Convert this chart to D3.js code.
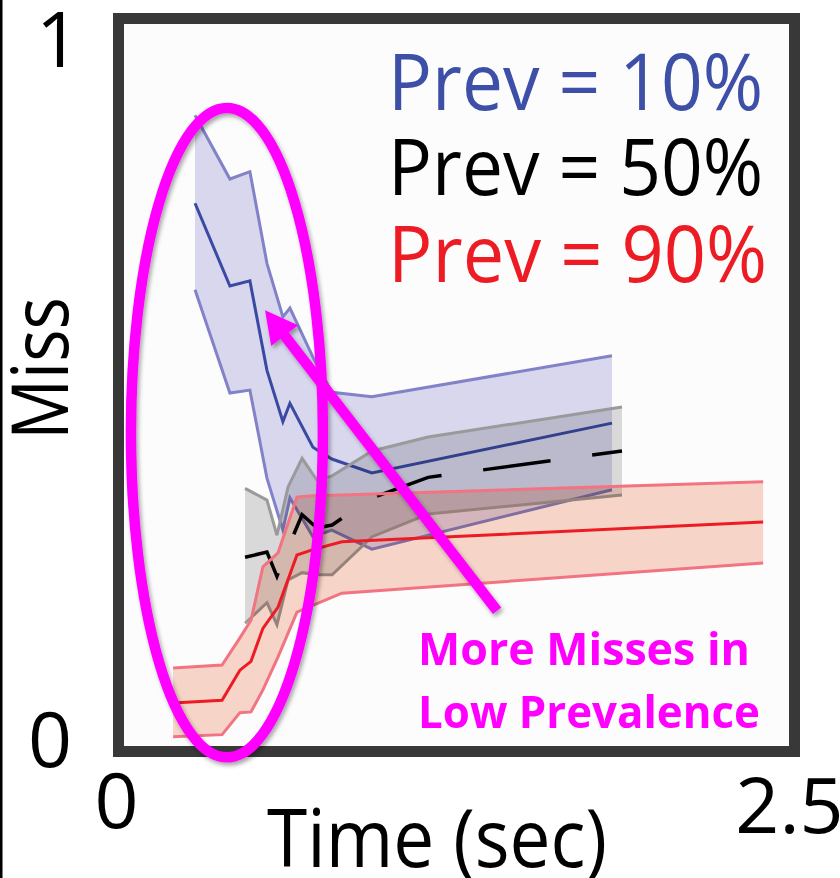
<!DOCTYPE html>
<html><head><meta charset="utf-8">
<script src="https://cdn.jsdelivr.net/npm/d3@7"></script>
<style>html,body{margin:0;padding:0;background:#fff;} svg{display:block;}</style>
</head><body>
<script>
// ---- data (time in sec, miss rate 0..1) ----
const blueTime = [0.283,0.412,0.486,0.549,0.608,0.634,0.719,0.789,0.937,1.825];
const blueMean = [0.748,0.635,0.642,0.520,0.450,0.475,0.415,0.399,0.380,0.448];
const blueHigh = [0.868,0.781,0.791,0.666,0.593,0.605,0.538,0.490,0.484,0.540];
const blueLow  = [0.630,0.489,0.493,0.373,0.302,0.346,0.293,0.302,0.276,0.357];

const grayTime = [0.468,0.549,0.586,0.627,0.679,0.734,0.790,0.938,1.145,1.862];
const grayMean = [0.265,0.272,0.239,0.278,0.323,0.305,0.309,0.346,0.374,0.410];
const grayHigh = [0.359,0.343,0.295,0.361,0.400,0.370,0.376,0.410,0.429,0.470];
const grayLow  = [0.175,0.203,0.173,0.234,0.244,0.241,0.241,0.293,0.324,0.350];

const redTime = [0.202,0.383,0.449,0.490,0.534,0.590,0.660,0.716,0.826,2.384];
const redMean = [0.066,0.070,0.111,0.123,0.168,0.197,0.268,0.275,0.286,0.313];
const redHigh = [0.114,0.118,0.155,0.179,0.252,0.271,0.347,0.349,0.350,0.368];
const redLow  = [0.020,0.023,0.053,0.054,0.084,0.129,0.190,0.199,0.216,0.257];

const legendLabels = ["Prev = 10%", "Prev = 50%", "Prev = 90%"];
const xTickValues = [0, 2.5];
const xTickLabels = ["0", "2.5"];
const yTickValues = [0, 1];
const yTickLabels = ["0", "1"];
const xTitle = "Time (sec)";
const yTitle = "Miss";
const noteLines = ["More Misses in", "Low Prevalence"];

// ---- layout ----
const W = 840, H = 878;
const FONT = "'Open Sans', 'Noto Sans', sans-serif";
const x = d3.scaleLinear().domain([0, 2.5]).range([118.5, 794.5]);
const y = d3.scaleLinear().domain([0, 1]).range([751.5, 18.5]);

const svg = d3.select("body").append("svg").attr("width", W).attr("height", H);
const defs = svg.append("defs");
const f = defs.append("filter").attr("id", "shadow").attr("x", "-20%").attr("y", "-20%").attr("width", "140%").attr("height", "140%");
f.append("feDropShadow").attr("dx", 2).attr("dy", 3).attr("stdDeviation", 2)
  .attr("flood-color", "#000").attr("flood-opacity", 0.35);

// left edge strip
svg.append("rect").attr("x", 0).attr("y", 0).attr("width", 2.5).attr("height", H).attr("fill", "#000");

// plot background
svg.append("rect").attr("x", x(0)).attr("y", y(1)).attr("width", x(2.5) - x(0)).attr("height", y(0) - y(1))
  .attr("fill", "#fcfcfc");

function rows(t, m, lo, hi) { return t.map((d, i) => ({t: d, m: m[i], lo: lo[i], hi: hi[i]})); }
const series = [
  {rows: rows(blueTime, blueMean, blueLow, blueHigh), fill: "#dcdaf0", edge: "#8282c8", mean: "#3a4aa2", dash: null},
  {rows: rows(grayTime, grayMean, grayLow, grayHigh), fill: "#dcdcdc", edge: "#9a9a9a", mean: "#000000", dash: "68,42"},
  {rows: rows(redTime, redMean, redLow, redHigh), fill: "#fad7cb", edge: "#f27382", mean: "#ed1c24", dash: null}
];

const area = d3.area().x(d => x(d.t)).y0(d => y(d.lo)).y1(d => y(d.hi));
const lineM = d3.line().x(d => x(d.t)).y(d => y(d.m));
const lineLo = d3.line().x(d => x(d.t)).y(d => y(d.lo));
const lineHi = d3.line().x(d => x(d.t)).y(d => y(d.hi));

const gData = svg.append("g");
series.forEach(s => {
  const g = gData.append("g");
  g.append("path").datum(s.rows).attr("d", area).attr("fill", s.fill).style("mix-blend-mode", "multiply");
  [lineLo, lineHi].forEach(l => g.append("path").datum(s.rows).attr("d", l)
    .attr("fill", "none").attr("stroke", s.edge).attr("stroke-width", 3).attr("stroke-linejoin", "miter"));
  const p = g.append("path").datum(s.rows).attr("d", lineM)
    .attr("fill", "none").attr("stroke", s.mean).attr("stroke-width", s.dash ? 3.5 : 3);
  if (s.dash) p.attr("stroke-dasharray", s.dash).attr("stroke-dashoffset", 16);
});

// frame
svg.append("rect").attr("x", x(0)).attr("y", y(1)).attr("width", x(2.5) - x(0)).attr("height", y(0) - y(1))
  .attr("fill", "none").attr("stroke", "#383838").attr("stroke-width", 11);

function fit(sel, w) { return sel.attr("textLength", w).attr("lengthAdjust", "spacingAndGlyphs"); }

// legend
const legendColors = ["#3d4fa6", "#000000", "#ed1c24"];
const legendBase = [0.875, 0.759, 0.640];
const legendW = [375, 375, 379];
legendLabels.forEach((lab, i) => {
  fit(svg.append("text").attr("x", x(0.997)).attr("y", y(legendBase[i]))
    .attr("font-family", FONT).attr("font-size", 78).attr("fill", legendColors[i]).text(lab), legendW[i]);
});

// tick labels
const tickFont = 77;
svg.selectAll(".xt").data(xTickValues).enter().append("text")
  .attr("x", (d, i) => i === 0 ? x(d) - 2 : x(d) - 5).attr("y", (d, i) => i === 0 ? 828 : 833)
  .attr("text-anchor", "middle").attr("font-family", FONT).attr("font-size", tickFont).attr("fill", "#000")
  .text((d, i) => xTickLabels[i]);
svg.selectAll(".yt").data(yTickValues).enter().append("text")
  .attr("x", (d, i) => i === 0 ? 50 : 58).attr("y", d => d === 0 ? y(d) + 15.5 : y(d) + 48.5)
  .attr("text-anchor", "middle").attr("font-family", FONT).attr("font-size", tickFont).attr("fill", "#000")
  .text((d, i) => yTickLabels[i]);

// axis titles
fit(svg.append("text").attr("x", 267).attr("y", 867).attr("font-family", FONT).attr("font-size", 80)
  .attr("fill", "#000").text(xTitle), 340);
fit(svg.append("text").attr("transform", "translate(68,440) rotate(-90)").attr("font-family", FONT)
  .attr("font-size", 78).attr("fill", "#000").text(yTitle), 143);

// annotation
const mag = "#ff00ff";
const gA = svg.append("g").attr("filter", "url(#shadow)");
const cx = 0.401, cy = 0.435, rxT = 0.355, ryV = 0.443;
gA.append("ellipse").attr("cx", x(cx)).attr("cy", y(cy))
  .attr("rx", x(cx + rxT) - x(cx)).attr("ry", y(cy - ryV) - y(cy))
  .attr("fill", "none").attr("stroke", mag).attr("stroke-width", 10.5);

const tail = [x(1.400), y(0.192)], tip = [x(0.542), y(0.602)];
const dx = tip[0] - tail[0], dy = tip[1] - tail[1], L = Math.hypot(dx, dy);
const ux = dx / L, uy = dy / L, headL = 32, headW = 34;
const base = [tip[0] - ux * headL, tip[1] - uy * headL];
gA.append("line").attr("x1", tail[0]).attr("y1", tail[1]).attr("x2", base[0] + ux * 2).attr("y2", base[1] + uy * 2)
  .attr("stroke", mag).attr("stroke-width", 10.5);
gA.append("path").attr("d", `M${tip[0]},${tip[1]}L${base[0] - uy * headW / 2},${base[1] + ux * headW / 2}L${base[0] + uy * headW / 2},${base[1] - ux * headW / 2}Z`)
  .attr("fill", mag);

const noteBase = [665, 728], noteW = [332, 342];
noteLines.forEach((t, i) => {
  fit(svg.append("text").attr("x", 418).attr("y", noteBase[i]).attr("font-family", FONT)
    .attr("font-weight", "bold").attr("font-size", 45).attr("fill", mag).text(t), noteW[i]);
});
</script>
</body></html>
